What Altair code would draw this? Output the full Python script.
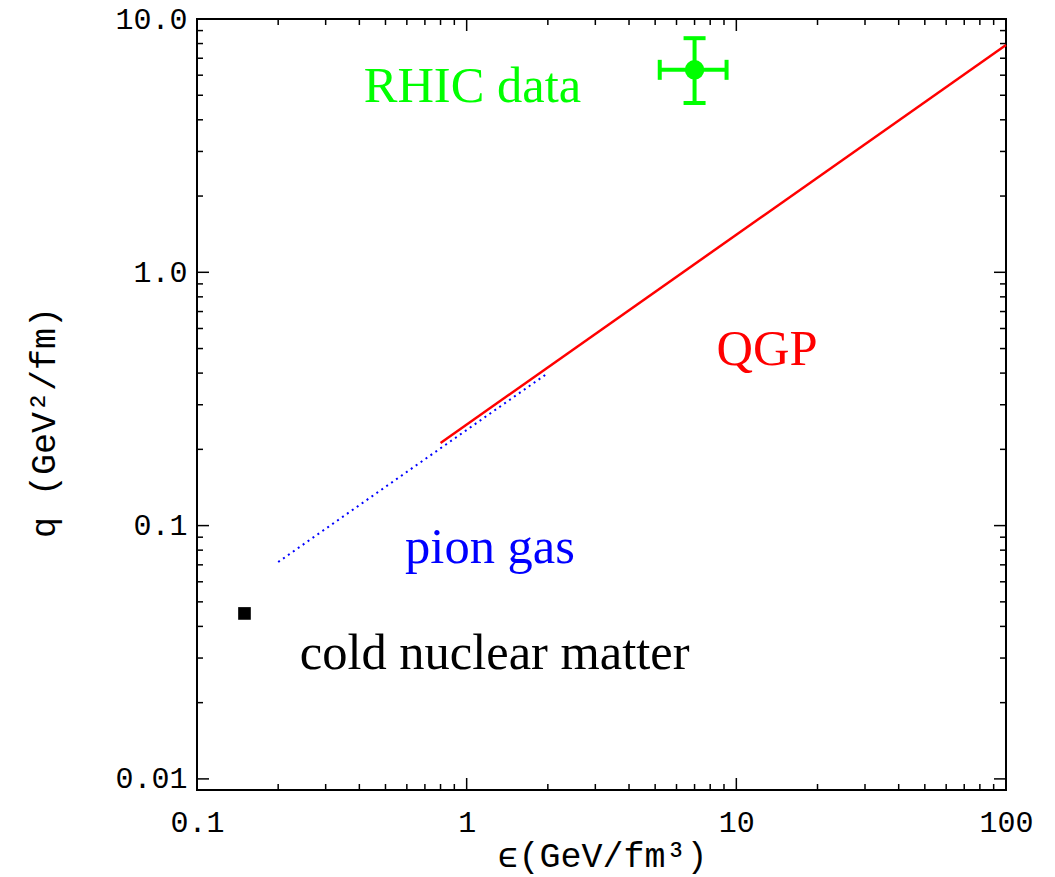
import altair as alt
import pandas as pd

W, H = 809, 771

# ---- data ----
qgp_eps = [0.8, 100.0]
qgp_q = [0.212, 7.9]

pion_eps = [0.2, 2.0]
pion_q = [0.0718, 0.40]

cold_eps = [0.15]
cold_q = [0.045]

rhic_eps = [7.0]
rhic_q = [6.3]
rhic_eps_lo = [5.2]
rhic_eps_hi = [9.2]
rhic_q_lo = [4.66]
rhic_q_hi = [8.4]

# annotation texts (anchor = centre of baseline, data units)
rhic_label = ["RHIC data"]; rhic_label_eps = [1.05]; rhic_label_q = [4.70]
qgp_label = ["QGP"]; qgp_label_eps = [13.0]; qgp_label_q = [0.43]
pion_label = ["pion gas"]; pion_label_eps = [1.22]; pion_label_q = [0.0711]
cold_label = ["cold nuclear matter"]; cold_label_eps = [1.27]; cold_label_q = [0.0272]

# axis ticks
x_major = [0.1, 1, 10, 100]
x_major_labels = ["0.1", "1", "10", "100"]
x_minor = [0.2, 0.3, 0.4, 0.5, 0.6, 0.7, 0.8, 0.9,
           2, 3, 4, 5, 6, 7, 8, 9,
           20, 30, 40, 50, 60, 70, 80, 90]
y_major = [0.01, 0.1, 1, 10]
y_major_labels = ["0.01", "0.1", "1.0", "10.0"]
y_minor = [0.02, 0.03, 0.04, 0.05, 0.06, 0.07, 0.08, 0.09,
           0.2, 0.3, 0.4, 0.5, 0.6, 0.7, 0.8, 0.9,
           2, 3, 4, 5, 6, 7, 8, 9]

x_domain = [0.1, 100]
y_domain = [0.00904, 10]


def label_expr(vals, labels):
    parts = [f"abs(datum.value - {v}) < {v * 0.001} ? '{l}'" for v, l in zip(vals, labels)]
    return " : ".join(parts) + " : ''"


xs = alt.Scale(type="log", domain=x_domain, nice=False, zero=False)
ys = alt.Scale(type="log", domain=y_domain, nice=False, zero=False)

x_axis = alt.Axis(values=x_major, labelExpr=label_expr(x_major, x_major_labels),
                  ticks=False, domain=False, grid=False,
                  labelFont="Liberation Mono", labelFontSize=30, labelColor="black",
                  labelPadding=17, labelFlush=False, labelOverlap=False,
                  title="ϵ(GeV/fm³)", titleFont="Liberation Mono", titleFontSize=35,
                  titleFontWeight="normal", titleColor="black",
                  titleX=405, titleY=76, titleBaseline="alphabetic", titleAlign="center")
y_axis = alt.Axis(values=y_major, labelExpr=label_expr(y_major, y_major_labels),
                  ticks=False, domain=False, grid=False,
                  labelFont="Liberation Mono", labelFontSize=30, labelColor="black",
                  labelPadding=10, labelFlush=False, labelOverlap=False,
                  title="q (GeV²/fm)", titleFont="Liberation Mono", titleFontSize=35,
                  titleFontWeight="normal", titleColor="black",
                  titleAngle=270, titleX=-143, titleY=403,
                  titleBaseline="alphabetic", titleAlign="center")


def X(field):
    return alt.X(f"{field}:Q", scale=xs, axis=x_axis)


def Y(field):
    return alt.Y(f"{field}:Q", scale=ys, axis=y_axis)


qgp_df = pd.DataFrame({"eps": qgp_eps, "q": qgp_q})
pion_df = pd.DataFrame({"eps": pion_eps, "q": pion_q})
cold_df = pd.DataFrame({"eps": cold_eps, "q": cold_q})
rhic_df = pd.DataFrame({"eps": rhic_eps, "q": rhic_q, "elo": rhic_eps_lo, "ehi": rhic_eps_hi,
                        "qlo": rhic_q_lo, "qhi": rhic_q_hi})

layers = []

# mirrored inward ticks on all four sides
for vals, length in ((x_major, 12), (x_minor, 6)):
    d = pd.DataFrame({"v": vals})
    base = alt.Chart(d).mark_rule(color="black", strokeWidth=1.5)
    layers.append(base.encode(x=X("v"), y=alt.value(H), y2=alt.value(H - length)))
    layers.append(base.encode(x=X("v"), y=alt.value(0), y2=alt.value(length)))
for vals, length in ((y_major, 12), (y_minor, 6)):
    d = pd.DataFrame({"v": vals})
    base = alt.Chart(d).mark_rule(color="black", strokeWidth=1.5)
    layers.append(base.encode(y=Y("v"), x=alt.value(0), x2=alt.value(length)))
    layers.append(base.encode(y=Y("v"), x=alt.value(W), x2=alt.value(W - length)))

# pion gas (dotted blue)
layers.append(alt.Chart(pion_df).mark_line(color="#0000ff", strokeWidth=2, strokeDash=[2, 4])
              .encode(x=X("eps"), y=Y("q")))
# QGP (solid red)
layers.append(alt.Chart(qgp_df).mark_line(color="#ff0000", strokeWidth=2.5)
              .encode(x=X("eps"), y=Y("q")))
# cold nuclear matter
layers.append(alt.Chart(cold_df).mark_square(color="black", size=160, opacity=1)
              .encode(x=X("eps"), y=Y("q")))
# RHIC data point with error bars
green = "#00ff00"
rb = alt.Chart(rhic_df)
layers.append(rb.mark_rule(color=green, strokeWidth=4).encode(x=X("elo"), x2="ehi:Q", y=Y("q")))
layers.append(rb.mark_rule(color=green, strokeWidth=4).encode(x=X("eps"), y=Y("qlo"), y2="qhi:Q"))
layers.append(rb.mark_tick(color=green, orient="horizontal", size=22, thickness=4, opacity=1)
              .encode(x=X("eps"), y=Y("qlo")))
layers.append(rb.mark_tick(color=green, orient="horizontal", size=22, thickness=4, opacity=1)
              .encode(x=X("eps"), y=Y("qhi")))
layers.append(rb.mark_tick(color=green, orient="vertical", size=20, thickness=4, opacity=1)
              .encode(x=X("elo"), y=Y("q")))
layers.append(rb.mark_tick(color=green, orient="vertical", size=20, thickness=4, opacity=1)
              .encode(x=X("ehi"), y=Y("q")))
layers.append(rb.mark_circle(color=green, size=380, opacity=1).encode(x=X("eps"), y=Y("q")))

# annotations
for txt, ex, qy, col in ((rhic_label, rhic_label_eps, rhic_label_q, green),
                         (qgp_label, qgp_label_eps, qgp_label_q, "#ff0000"),
                         (pion_label, pion_label_eps, pion_label_q, "#0000ff"),
                         (cold_label, cold_label_eps, cold_label_q, "black")):
    d = pd.DataFrame({"t": txt, "eps": ex, "q": qy})
    layers.append(alt.Chart(d).mark_text(font="Liberation Serif", fontSize=50.5, color=col,
                                         align="center", baseline="alphabetic")
                  .encode(x=X("eps"), y=Y("q"), text="t:N"))

chart = alt.layer(*layers).properties(
    width=W, height=H,
    autosize=alt.AutoSizeParams(type="none"),
    padding={"left": 197, "top": 19, "right": 1055 - 197 - W, "bottom": 877 - 19 - H},
    background="white",
).configure_view(stroke="black", strokeWidth=2)

chart.save("out.html", embed_options={"renderer": "svg", "actions": False})
